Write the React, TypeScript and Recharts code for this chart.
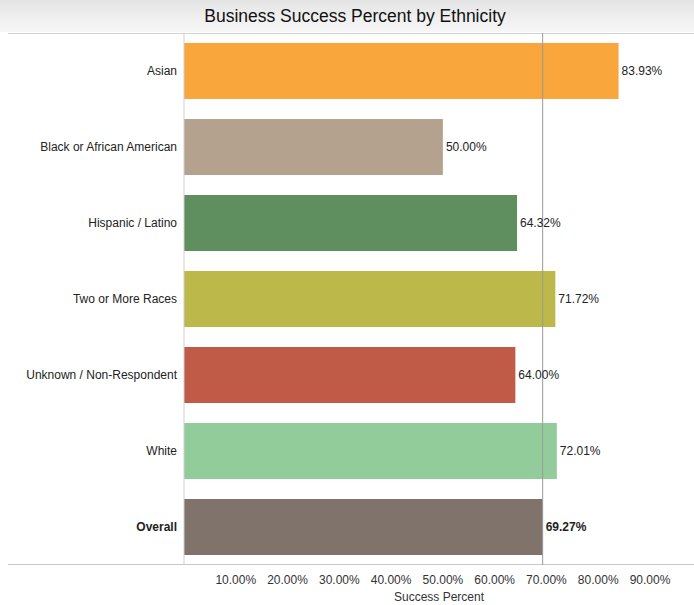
import React from "react";
import { BarChart, Bar, XAxis, YAxis, Cell, LabelList, ReferenceLine } from "recharts";

const categories = [
  "Asian",
  "Black or African American",
  "Hispanic / Latino",
  "Two or More Races",
  "Unknown / Non-Respondent",
  "White",
  "Overall",
];
const successPercent = [83.93, 50.0, 64.32, 71.72, 64.0, 72.01, 69.27];
const barColors = ["#F9A63C", "#B4A28F", "#5F8F5F", "#BDB84A", "#C05B48", "#93CC9B", "#7F736B"];
const xTicks = [10, 20, 30, 40, 50, 60, 70, 80, 90];
const overallValue = successPercent[successPercent.length - 1];

const data = categories.map((c, i) => ({ name: c, value: successPercent[i] }));

const FONT = "Arial, 'Liberation Sans', sans-serif";

const YTick = (props: any) => {
  const { x, y, payload } = props;
  const bold = payload.value === "Overall";
  return (
    <text x={x} y={y} dy={4} textAnchor="end" fontSize={12} fontFamily={FONT} fill="#222" fontWeight={bold ? "bold" : "normal"}>
      {payload.value}
    </text>
  );
};

const ValueLabel = (props: any) => {
  const { x, y, width, height, value, index } = props;
  const bold = categories[index] === "Overall";
  return (
    <text x={x + width + 3} y={y + height / 2} dy={4} fontSize={12} fontFamily={FONT} fill="#222" fontWeight={bold ? "bold" : "normal"}>
      {Number(value).toFixed(2)}%
    </text>
  );
};

export default function App() {
  return (
    <div style={{ position: "absolute", left: 0, top: 0, width: 694, height: 605, background: "#fff", fontFamily: FONT }}>
      <div
        style={{
          position: "absolute",
          left: 0,
          top: 0,
          width: 694,
          height: 32,
          background: "linear-gradient(to bottom, #e4e4e4, #f0f0f0 60%, #f6f6f6)",
          textAlign: "center",
          lineHeight: "32px",
          fontSize: 17.5,
          color: "#111",
        }}
      >
        <span style={{ position: "relative", left: 8 }}>Business Success Percent by Ethnicity</span>
      </div>
      <div style={{ position: "absolute", left: 8, top: 33, width: 686, height: 1, background: "#d4d4d4" }} />
      <div style={{ position: "absolute", left: 8, top: 564, width: 686, height: 1, background: "#c8c8c8" }} />
      <div style={{ position: "absolute", left: 0, top: 0 }}>
        <BarChart
          width={694}
          height={605}
          data={data}
          layout="vertical"
          margin={{ top: 33, right: 0, bottom: 0, left: 0 }}
          barSize={56}
        >
          <XAxis
            type="number"
            domain={[0, 98.5]}
            ticks={xTicks}
            tickFormatter={(v: number) => v.toFixed(2) + "%"}
            axisLine={false}
            tickLine={false}
            height={40}
            tick={{ fontSize: 12, fill: "#333", fontFamily: FONT }}
            tickMargin={4}
            label={{ value: "Success Percent", position: "insideBottom", offset: 4, fontSize: 12, fill: "#333", fontFamily: FONT }}
          />
          <YAxis
            type="category"
            dataKey="name"
            width={184}
            axisLine={{ stroke: "#d0d0d0" }}
            tickLine={false}
            tick={<YTick />}
            tickMargin={1}
          />
          <Bar dataKey="value" isAnimationActive={false}>
            {data.map((d, i) => (
              <Cell key={d.name} fill={barColors[i]} />
            ))}
            <LabelList dataKey="value" content={<ValueLabel />} />
          </Bar>
          <ReferenceLine x={overallValue} stroke="#9a9a9a" strokeWidth={1} />
        </BarChart>
      </div>
    </div>
  );
}
